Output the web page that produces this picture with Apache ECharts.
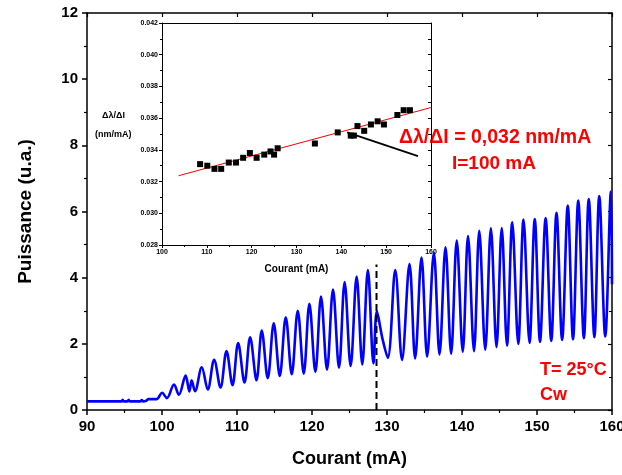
<!DOCTYPE html>
<html><head><meta charset="utf-8">
<script src="https://cdn.jsdelivr.net/npm/echarts@6/dist/echarts.min.js"></script>
<style>html,body{margin:0;padding:0;background:#fff}#c{width:622px;height:475px}</style>
</head><body><div id="c"></div>
<script>
// Main curve (Courant mA, Puissance u.a.)
const curX = [90,94.6,94.75,94.9,95.4,95.55,95.7,97.1,97.3,97.5,97.9,98.2,99.3,100.0,100.65,101.6,102.25,103.15,103.65,103.95,104.4,105.3,106.1,106.95,107.8,108.6,109.4,110.15,111.0,111.75,112.6,113.3,114.1,114.9,115.7,116.5,117.3,118.1,118.9,119.65,120.45,121.2,122.0,122.8,123.6,124.35,125.15,125.95,126.7,127.45,128.2,128.65,129.4,130.1,131.1,132.0,133.0,133.75,134.6,135.35,136.25,137.0,137.8,138.55,139.3,140.1,140.8,141.6,142.3,143.1,143.85,144.6,145.3,146.0,146.7,147.5,148.2,149.0,149.7,150.4,151.15,151.9,152.6,153.35,154.1,154.8,155.5,156.25,156.9,157.65,158.3,159.1,159.85,160.0];
const curY = [0.26,0.26,0.31,0.26,0.26,0.31,0.26,0.26,0.30,0.26,0.28,0.33,0.33,0.52,0.36,0.77,0.46,1.04,0.56,0.90,0.57,1.29,0.62,1.52,0.68,1.78,0.75,2.02,0.83,2.20,0.90,2.40,0.96,2.62,1.03,2.80,1.08,3.00,1.10,3.21,1.15,3.43,1.22,3.64,1.28,3.87,1.33,4.03,1.38,4.23,1.41,2.98,2.15,1.58,4.23,1.51,4.41,1.56,4.61,1.62,4.75,1.68,4.92,1.70,5.12,1.76,5.26,1.78,5.42,1.82,5.49,1.90,5.50,1.95,5.67,2.00,5.76,2.03,5.77,2.06,5.80,2.09,5.96,2.12,6.18,2.14,6.33,2.17,6.38,2.20,6.47,2.22,6.60,3.80];
// Threshold marker
const markX = [128.6, 128.6];
const markY = [0, 4.4];
// Main axis ticks
const mainXTicks = [90,100,110,120,130,140,150,160];
const mainYTicks = [0,2,4,6,8,10,12];
// Inset: d(lambda)/dI vs Courant
const insX = [108.5,110.1,111.7,113.2,114.9,116.5,118.1,119.6,121.1,122.8,124.2,125.0,125.8,134.1,139.2,142.1,142.8,143.6,145.1,146.6,148.1,149.5,152.5,153.9,155.3];
const insY = [0.0331,0.0330,0.0328,0.0328,0.0332,0.0332,0.0335,0.0338,0.0335,0.0337,0.0339,0.0337,0.0341,0.0344,0.0351,0.0349,0.0349,0.0355,0.0352,0.0356,0.0358,0.0356,0.0362,0.0365,0.0365];
const fitX = [103.7, 160];
const fitY = [0.03237, 0.03667];
const ptrX = [141.3, 157.1];
const ptrY = [0.0351, 0.0336];
const insXTicks = [100,110,120,130,140,150,160];
const insYTicks = [0.028,0.030,0.032,0.034,0.036,0.038,0.040,0.042];

const F = 'Liberation Sans, Arial, sans-serif';
const pairs = (xs, ys) => xs.map((x, i) => [x, ys[i]]);
const chart = echarts.init(document.getElementById('c'), null, {renderer: 'canvas'});

const axLine = {show: true, onZero: false, lineStyle: {color: '#000', width: 1.5}};
chart.setOption({
  animation: false,
  backgroundColor: '#fff',
  grid: [
    {left: 87, right: 10, top: 13, bottom: 65, containLabel: false, outerBoundsMode: 'none'},
    {left: 162, right: 191, top: 23, bottom: 230, containLabel: false, outerBoundsMode: 'none'}
  ],
  xAxis: [
    {gridIndex: 0, type: 'value', min: mainXTicks[0], max: mainXTicks[mainXTicks.length-1], interval: 10,
     axisLine: axLine, axisTick: {show: true, inside: false, length: 5, lineStyle: {width: 1.5}},
     minorTick: {show: true, splitNumber: 2, length: 3, lineStyle: {color: '#000', width: 1.2}},
     splitLine: {show: false},
     axisLabel: {color: '#000', fontFamily: F, fontWeight: 'bold', fontSize: 15, margin: 9},
     name: 'Courant (mA)', nameLocation: 'middle', nameGap: 40,
     nameTextStyle: {color: '#000', fontFamily: F, fontWeight: 'bold', fontSize: 18}},
    {gridIndex: 0, type: 'value', position: 'top', min: 90, max: 160, interval: 10,
     axisLine: axLine, axisTick: {show: true, inside: true, length: 4, lineStyle: {width: 1.2}},
     minorTick: {show: false}, splitLine: {show: false}, axisLabel: {show: false}},
    {gridIndex: 1, type: 'value', min: insXTicks[0], max: insXTicks[insXTicks.length-1], interval: 10,
     axisLine: {show: true, onZero: false, lineStyle: {color: '#000', width: 1}},
     axisTick: {show: true, inside: false, length: 3, lineStyle: {width: 1}},
     minorTick: {show: true, splitNumber: 2, length: 2, lineStyle: {color: '#000'}},
     splitLine: {show: false},
     axisLabel: {color: '#000', fontFamily: F, fontWeight: 'bold', fontSize: 7, margin: 4},
     name: 'Courant (mA)', nameLocation: 'middle', nameGap: 19,
     nameTextStyle: {color: '#000', fontFamily: F, fontWeight: 'bold', fontSize: 10}},
    {gridIndex: 1, type: 'value', position: 'top', min: 100, max: 160, interval: 10,
     axisLine: {show: true, onZero: false, lineStyle: {color: '#000', width: 1}},
     axisTick: {show: false}, splitLine: {show: false}, axisLabel: {show: false}}
  ],
  yAxis: [
    {gridIndex: 0, type: 'value', min: mainYTicks[0], max: mainYTicks[mainYTicks.length-1], interval: 2,
     axisLine: axLine, axisTick: {show: true, inside: false, length: 5, lineStyle: {width: 1.5}},
     minorTick: {show: true, splitNumber: 2, length: 3, lineStyle: {color: '#000', width: 1.2}},
     splitLine: {show: false},
     axisLabel: {color: '#000', fontFamily: F, fontWeight: 'bold', fontSize: 15, margin: 9},
     name: 'Puissance (u.a.)', nameLocation: 'middle', nameGap: 52, nameRotate: 90,
     nameTextStyle: {color: '#000', fontFamily: F, fontWeight: 'bold', fontSize: 19}},
    {gridIndex: 0, type: 'value', position: 'right', min: 0, max: 12, interval: 2,
     axisLine: axLine, axisTick: {show: true, inside: true, length: 4, lineStyle: {width: 1.2}},
     minorTick: {show: true, splitNumber: 2, length: 3, lineStyle: {color: '#000'}},
     splitLine: {show: false}, axisLabel: {show: false}},
    {gridIndex: 1, type: 'value', min: insYTicks[0], max: insYTicks[insYTicks.length-1], interval: 0.002,
     axisLine: {show: true, onZero: false, lineStyle: {color: '#000', width: 1}},
     axisTick: {show: true, inside: false, length: 3, lineStyle: {width: 1}},
     minorTick: {show: true, splitNumber: 2, length: 2, lineStyle: {color: '#000'}},
     splitLine: {show: false},
     axisLabel: {color: '#000', fontFamily: F, fontWeight: 'bold', fontSize: 7, margin: 4,
                 formatter: v => v.toFixed(3)}},
    {gridIndex: 1, type: 'value', position: 'right', min: 0.028, max: 0.042, interval: 0.002,
     axisLine: {show: true, onZero: false, lineStyle: {color: '#000', width: 1}},
     axisTick: {show: true, inside: true, length: 3}, minorTick: {show: true, splitNumber: 2, length: 3, lineStyle: {color: '#000'}},
     splitLine: {show: false}, axisLabel: {show: false}}
  ],
  series: [
    {type: 'line', xAxisIndex: 0, yAxisIndex: 0, data: pairs(curX, curY), showSymbol: false,
     smooth: 0.35, lineStyle: {color: '#0000ff', width: 2.6}, z: 3},
    {type: 'line', xAxisIndex: 0, yAxisIndex: 0, data: pairs(markX, markY), showSymbol: false,
     lineStyle: {color: '#000', width: 2, type: [7, 4]}, z: 4},
    {type: 'line', xAxisIndex: 2, yAxisIndex: 2, data: pairs(fitX, fitY), showSymbol: false,
     lineStyle: {color: '#ff0000', width: 1}, z: 3},
    {type: 'line', xAxisIndex: 2, yAxisIndex: 2, data: pairs(ptrX, ptrY), showSymbol: false,
     lineStyle: {color: '#000', width: 1.8}, z: 4},
    {type: 'scatter', xAxisIndex: 2, yAxisIndex: 2, data: pairs(insX, insY), symbol: 'rect',
     symbolSize: 6, itemStyle: {color: '#000', opacity: 1}, z: 5}
  ],
  graphic: [
    {type: 'text', left: 102, top: 111, style: {text: 'Δλ/ΔI', fill: '#000', font: 'bold 9px ' + F}},
    {type: 'text', left: 95, top: 130, style: {text: '(nm/mA)', fill: '#000', font: 'bold 9px ' + F}},
    {type: 'text', left: 399, top: 128, style: {text: 'Δλ/ΔI = 0,032 nm/mA', fill: '#ff0000', font: 'bold 19.5px ' + F}},
    {type: 'text', left: 452, top: 154, style: {text: 'I=100 mA', fill: '#ff0000', font: 'bold 19px ' + F}},
    {type: 'text', left: 540, top: 361, style: {text: 'T= 25°C', fill: '#ff0000', font: 'bold 18px ' + F}},
    {type: 'text', left: 540, top: 386, style: {text: 'Cw', fill: '#ff0000', font: 'bold 18px ' + F}}
  ]
});
</script></body></html>
